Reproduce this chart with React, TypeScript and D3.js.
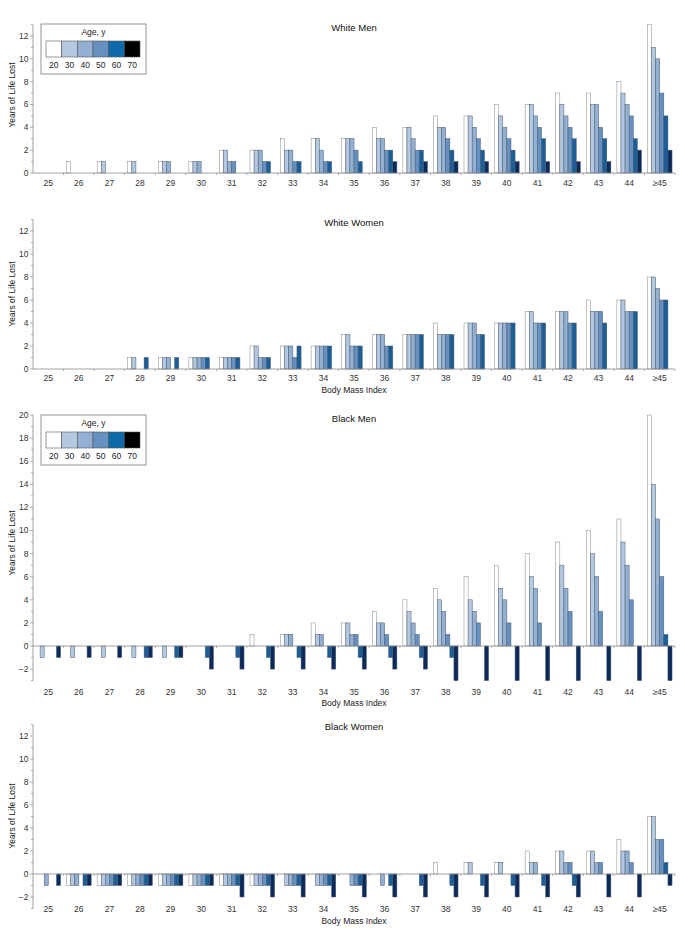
import React from "react";
import * as d3 from "d3";

const bmiCategories = ["25","26","27","28","29","30","31","32","33","34","35","36","37","38","39","40","41","42","43","44","≥45"];
const ageGroups = ["20","30","40","50","60","70"];

// rows = BMI category, columns = age group 20..70
const whiteMen = [
  [0,0,0,0,0,0],[1,0,0,0,0,0],[1,1,0,0,0,0],[1,1,0,0,0,0],[1,1,1,0,0,0],
  [1,1,1,0,0,0],[2,2,1,1,0,0],[2,2,2,1,1,0],[3,2,2,1,1,0],[3,3,2,1,1,0],
  [3,3,3,2,1,0],[4,3,3,2,2,1],[4,4,3,2,2,1],[5,4,4,3,2,1],[5,5,4,3,2,1],
  [6,5,4,3,2,1],[6,6,5,4,3,1],[7,6,5,4,3,1],[7,6,6,4,3,1],[8,7,6,5,3,2],
  [13,11,10,7,5,2],
];
const whiteWomen = [
  [0,0,0,0,0,0],[0,0,0,0,0,0],[0,0,0,0,0,0],[1,1,0,0,1,0],[1,1,1,0,1,0],
  [1,1,1,1,1,0],[1,1,1,1,1,0],[2,2,1,1,1,0],[2,2,2,1,2,0],[2,2,2,2,2,0],
  [3,3,2,2,2,0],[3,3,3,2,2,0],[3,3,3,3,3,0],[4,3,3,3,3,0],[4,4,4,3,3,0],
  [4,4,4,4,4,0],[5,5,4,4,4,0],[5,5,5,4,4,0],[6,5,5,5,4,0],[6,6,5,5,5,0],
  [8,8,7,6,6,0],
];
const blackMen = [
  [0,-1,0,0,0,-1],[0,-1,0,0,0,-1],[0,-1,0,0,0,-1],[0,-1,0,0,-1,-1],[0,-1,0,0,-1,-1],
  [0,0,0,0,-1,-2],[0,0,0,0,-1,-2],[1,0,0,0,-1,-2],[1,1,1,0,-1,-2],[2,1,1,0,-1,-2],
  [2,2,1,1,-1,-2],[3,2,2,1,-1,-2],[4,3,2,1,-1,-2],[5,4,3,1,-1,-3],[6,4,3,2,0,-3],
  [7,5,4,2,0,-3],[8,6,5,2,0,-3],[9,7,5,3,0,-3],[10,8,6,3,0,-3],[11,9,7,4,0,-3],
  [20,14,11,6,1,-3],
];
const blackWomen = [
  [0,0,-1,0,0,-1],[-1,-1,-1,0,-1,-1],[-1,-1,-1,-1,-1,-1],[-1,-1,-1,-1,-1,-1],[-1,-1,-1,-1,-1,-1],
  [-1,-1,-1,-1,-1,-1],[-1,-1,-1,-1,-1,-2],[-1,-1,-1,-1,-1,-2],[0,-1,-1,-1,-1,-2],[0,-1,-1,-1,-1,-2],
  [0,0,-1,-1,-1,-2],[0,0,-1,0,-1,-2],[0,0,0,0,-1,-2],[1,0,0,0,-1,-2],[1,1,0,0,-1,-2],
  [1,1,0,0,-1,-2],[2,1,1,0,-1,-2],[2,2,1,1,-1,-2],[2,2,1,1,0,-2],[3,2,2,1,0,-2],
  [5,5,3,3,1,-1],
];

const barColors = ["#ffffff", "#b5c8e1", "#93b0d3", "#6690bf", "#1b5e98", "#0c2a5a"];
const legendColors = ["#ffffff", "#b5c8e1", "#93b0d3", "#6690bf", "#0e6aaa", "#000000"];

const FONT = "'Liberation Sans', Arial, Helvetica, sans-serif";
const X0 = 33;
const X1 = 675;

interface PanelSpec {
  title: string;
  data: number[][];
  zeroY: number;
  unit: number;
  yMin: number;
  yMax: number;
  titleY: number;
  tickLabelY: number;
  xTitleY: number | null;
  yTitleY: number;
  legendY: number | null;
}

const panels: PanelSpec[] = [
  { title: "White Men", data: whiteMen, zeroY: 173, unit: 11.42, yMin: 0, yMax: 13, titleY: 28, tickLabelY: 183, xTitleY: null, yTitleY: 95, legendY: 24 },
  { title: "White Women", data: whiteWomen, zeroY: 369, unit: 11.5, yMin: 0, yMax: 13, titleY: 223, tickLabelY: 378, xTitleY: 390, yTitleY: 294, legendY: null },
  { title: "Black Men", data: blackMen, zeroY: 646, unit: 11.55, yMin: -3, yMax: 20, titleY: 419, tickLabelY: 692, xTitleY: 703, yTitleY: 543, legendY: 415 },
  { title: "Black Women", data: blackWomen, zeroY: 874, unit: 11.5, yMin: -3, yMax: 13, titleY: 727, tickLabelY: 909, xTitleY: 921, yTitleY: 816, legendY: null },
];

function Legend({ top }: { top: number }) {
  const left = 41;
  const w = 105;
  const h = 50;
  const sx = d3.scaleBand<string>().domain(ageGroups).range([46, 140]);
  return (
    <g>
      <rect x={left} y={top} width={w} height={h} fill="#fff" stroke="#777" strokeWidth={0.8} />
      <text x={left + w / 2} y={top + 8} dy="0.35em" textAnchor="middle" fontSize={8.5} fill="#222" fontFamily={FONT}>Age, y</text>
      {ageGroups.map((a, i) => (
        <g key={a}>
          <rect x={sx(a)!} y={top + 17} width={sx.bandwidth()} height={16} fill={legendColors[i]} stroke="#555" strokeWidth={0.6} />
          <text x={sx(a)! + sx.bandwidth() / 2} y={top + 41} dy="0.35em" textAnchor="middle" fontSize={8.5} fill="#222" fontFamily={FONT}>{a}</text>
        </g>
      ))}
    </g>
  );
}

function Panel({ p }: { p: PanelSpec }) {
  const x = d3.scaleBand<string>().domain(bmiCategories).range([X0, X1]).padding(0);
  const inner = d3.scaleBand<string>().domain(ageGroups).range([3, 27.6]).padding(0);
  const y = d3.scaleLinear().domain([p.yMin, p.yMax]).range([p.zeroY - p.yMin * p.unit, p.zeroY - p.yMax * p.unit]);
  const minorTicks = d3.range(p.yMin, p.yMax + 1, 1);
  const majorTicks = minorTicks.filter((t) => t % 2 === 0);
  const axisColor = "#8a8a8a";
  return (
    <g>
      <text x={354} y={p.titleY} dy="0.35em" textAnchor="middle" fontSize={9.5} fill="#111" fontFamily={FONT}>{p.title}</text>
      {/* bars */}
      {p.data.map((row, ci) =>
        row.map((v, ai) => {
          if (v === 0) return null;
          const bx = x(bmiCategories[ci])! + inner(ageGroups[ai])!;
          const y0 = y(0);
          const y1 = y(v);
          return (
            <rect key={`${ci}-${ai}`} x={bx} y={Math.min(y0, y1)} width={inner.bandwidth()} height={Math.abs(y1 - y0)}
              fill={barColors[ai]} stroke={ai === 0 ? "#888" : "#4a5a6a"} strokeWidth={0.5} />
          );
        })
      )}
      {/* y axis */}
      <line x1={X0} x2={X0} y1={y(p.yMin)} y2={y(p.yMax)} stroke={axisColor} strokeWidth={0.8} />
      {minorTicks.map((t) => (
        <line key={`m${t}`} x1={X0 - (t % 2 === 0 ? 3 : 2)} x2={X0} y1={y(t)} y2={y(t)} stroke={axisColor} strokeWidth={0.7} />
      ))}
      {majorTicks.map((t) => (
        <text key={`t${t}`} x={X0 - 4.5} y={y(t)} dy="0.35em" textAnchor="end" fontSize={8.5} fill="#333" fontFamily={FONT}>
          {t < 0 ? `\u2212${-t}` : t}
        </text>
      ))}
      {/* x axis at zero */}
      <line x1={X0} x2={X1} y1={y(0)} y2={y(0)} stroke={axisColor} strokeWidth={0.8} />
      {bmiCategories.map((c) => (
        <line key={`xt${c}`} x1={x(c)! + x.bandwidth()} x2={x(c)! + x.bandwidth()} y1={y(0)} y2={y(0) + 2} stroke={axisColor} strokeWidth={0.7} />
      ))}
      {bmiCategories.map((c) => (
        <text key={`xl${c}`} x={x(c)! + x.bandwidth() / 2} y={p.tickLabelY} dy="0.35em" textAnchor="middle" fontSize={8.5} fill="#333" fontFamily={FONT}>{c}</text>
      ))}
      {p.xTitleY !== null && (
        <text x={354} y={p.xTitleY} dy="0.35em" textAnchor="middle" fontSize={8.5} fill="#222" fontFamily={FONT}>Body Mass Index</text>
      )}
      <text transform={`translate(12,${p.yTitleY}) rotate(-90)`} dy="0.35em" textAnchor="middle" fontSize={8.5} fill="#222" fontFamily={FONT}>Years of Life Lost</text>
      {p.legendY !== null && <Legend top={p.legendY} />}
    </g>
  );
}

export default function App() {
  return (
    <svg width={685} height={939} viewBox="0 0 685 939" style={{ position: "absolute", left: 0, top: 0, background: "#fff" }}>
      <rect x={0} y={0} width={685} height={939} fill="#fff" />
      {panels.map((p) => (
        <Panel key={p.title} p={p} />
      ))}
    </svg>
  );
}
